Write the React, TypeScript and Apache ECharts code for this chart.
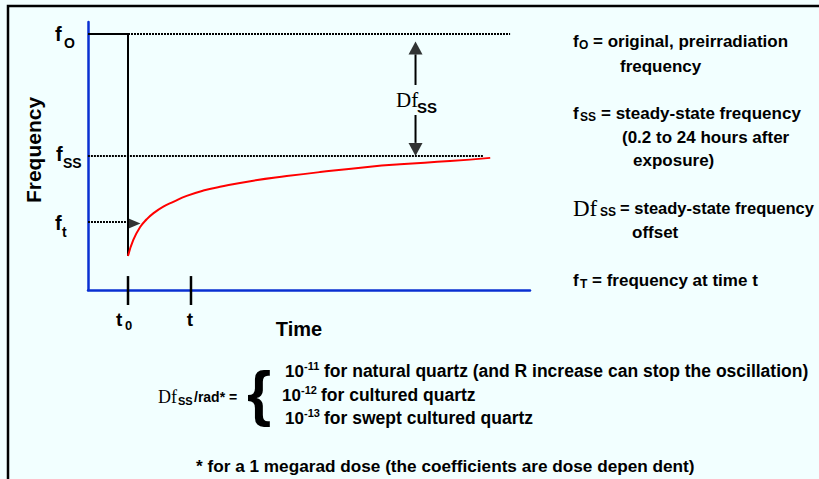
import React, { useEffect, useRef } from "react";
import * as echarts from "echarts";

// Time (arbitrary units, 0-100) and frequency (arbitrary units, 0-100) of the recovery curve
const CURVE_TIME = [9.05, 10.25, 11.76, 13.28, 14.77, 17.04, 19.3, 22.33, 26.09, 29.86, 37.4, 44.95, 52.5, 63.8, 70.6, 81.9, 91.0];
const CURVE_FREQ = [12.7, 18.7, 23.4, 26.4, 28.6, 31.1, 32.9, 35.1, 37.1, 38.5, 40.8, 42.5, 44.0, 46.0, 46.9, 48.1, 49.3];

const T0 = 9.05;      // time of exposure
const T = 23.3;       // time t
const F_O = 95.5;     // original frequency
const F_SS = 50;      // steady-state frequency
const F_T = 25.4;     // frequency at time t
const DF_X = 74.1;    // position of the Δf_ss arrow
const FO_END = 95.5;
const FSS_START = -0.7;
const FSS_END = 89.4;
const FT_START = -3.4;
const TICK_TOP = 5.2;
const TICK_BOTTOM = -5.6;
const DF_TOP_HEAD = 90.3;
const DF_TOP_SHAFT = [87.9, 76.5];
const DF_BOT_SHAFT = [65.3, 54.9];
const DF_BOT_HEAD = 52.4;
const FT_HEAD_X = 10.4;

const BG = "#F2FFFF";
const BLUE = "#0A30D2";
const SANS = "'Liberation Sans', Arial, sans-serif";
const SERIF = "'Liberation Serif', 'Times New Roman', serif";

function txt(text: string, x: number, y: number, size: number, opts: any = {}) {
  return {
    type: "text",
    x,
    y,
    rotation: opts.rotation || 0,
    style: {
      text,
      fontSize: size,
      fontWeight: opts.weight || "bold",
      fontFamily: opts.family || SANS,
      fill: "#000",
      align: opts.align || "left",
      verticalAlign: "middle",
    },
  };
}

export default function App() {
  const ref = useRef<HTMLDivElement>(null);
  useEffect(() => {
    if (!ref.current) return;
    const chart = echarts.init(ref.current, null, { renderer: "svg" });
    const dotted = { color: "#000", width: 2, type: [2, 1] as any };
    const solid = { color: "#000", width: 2, type: "solid" as any };
    const lineSeries = (data: any[], style: any, clip = true) => ({
      type: "line",
      data,
      symbol: "none",
      clip,
      silent: true,
      lineStyle: style,
    });
    const head = (x: number, y: number, rot: number, size: number[]) => ({
      type: "scatter",
      data: [[x, y]],
      symbol: "triangle",
      symbolSize: size,
      symbolRotate: rot,
      clip: false,
      silent: true,
      itemStyle: { color: "#000" },
    });

    const graphic: any[] = [
      // frame
      { type: "polyline", shape: { points: [[8, 479], [8, 6], [819, 6]] }, style: { stroke: "#000", lineWidth: 2.5, fill: null } },
      // axis titles
      txt("Frequency", 33, 150, 21, { align: "center", rotation: Math.PI / 2 }),
      txt("Time", 299, 329, 20, { align: "center" }),
      // left labels
      txt("f", 55, 34, 20),
      txt("O", 64, 43, 14),
      txt("f", 56, 154, 20),
      txt("SS", 63, 163, 14),
      txt("f", 55, 223, 20),
      txt("t", 62, 232, 14),
      // tick labels
      txt("t", 116, 319, 19),
      txt("0", 125, 325, 13),
      txt("t", 190, 319, 19, { align: "center" }),
      // Δf label near arrow
      txt("Df", 396, 100, 21, { weight: "normal", family: SERIF }),
      txt("SS", 417, 107, 15),
      // right-hand legend
      txt("f", 573, 41, 17),
      txt("O", 579, 45, 12),
      txt("= original, preirradiation", 593, 41, 17),
      txt("frequency", 620, 66, 17),
      txt("f", 573, 113, 17),
      txt("SS", 580, 117, 12),
      txt("= steady-state frequency", 601, 113, 17),
      txt("(0.2 to 24 hours after", 622, 137, 17),
      txt("exposure)", 633, 160, 17),
      txt("Df", 573, 208, 23, { weight: "normal", family: SERIF }),
      txt("SS", 600, 212, 12),
      txt("= steady-state frequency", 620, 208, 16.5),
      txt("offset", 632, 232, 17),
      txt("f", 573, 280, 17),
      txt("T", 580, 284, 12),
      txt("= frequency at time t", 592, 280, 17),
      // bottom formula
      txt("Df", 158, 397, 18, { weight: "normal", family: SERIF }),
      txt("SS", 178, 401, 11),
      txt("/rad* =", 194, 397, 14),
      txt("{", 247, 392, 62),
      txt("10", 285, 371, 17),
      txt("-11", 304, 366, 11),
      txt("for natural quartz (and R increase can stop the oscillation)", 324, 371, 17.5),
      txt("10", 282, 395, 17),
      txt("-12", 301, 390, 11),
      txt("for cultured quartz", 321, 395, 17.5),
      txt("10", 285, 418, 17),
      txt("-13", 304, 413, 11),
      txt("for swept cultured quartz", 324, 418, 17.5),
      txt("* for a 1 megarad dose (the coefficients are dose depen dent)", 196, 466, 17.2),
    ];

    chart.setOption({
      animation: false,
      backgroundColor: BG,
      grid: { left: 88, top: 22, right: 289, bottom: 189 },
      xAxis: {
        type: "value", min: 0, max: 100,
        axisLine: { show: true, onZero: false, lineStyle: { color: BLUE, width: 2.5 } },
        axisTick: { show: false }, axisLabel: { show: false }, splitLine: { show: false },
      },
      yAxis: {
        type: "value", min: 0, max: 100,
        axisLine: { show: true, onZero: false, lineStyle: { color: BLUE, width: 2.5 } },
        axisTick: { show: false }, axisLabel: { show: false }, splitLine: { show: false },
      },
      series: [
        lineSeries([[0, F_O], [T0, F_O]], solid),
        lineSeries([[T0, F_O], [FO_END, F_O]], dotted),
        lineSeries([[FSS_START, F_SS], [FSS_END, F_SS]], dotted, false),
        lineSeries([[FT_START, F_T], [T0, F_T]], dotted, false),
        lineSeries([[T0, F_O], [T0, CURVE_FREQ[0]]], solid),
        lineSeries([[T0, TICK_TOP], [T0, TICK_BOTTOM]], { color: "#000", width: 2.5 }, false),
        lineSeries([[T, TICK_TOP], [T, TICK_BOTTOM]], { color: "#000", width: 2.5 }, false),
        lineSeries([[DF_X, DF_TOP_SHAFT[0]], [DF_X, DF_TOP_SHAFT[1]]], solid),
        lineSeries([[DF_X, DF_BOT_SHAFT[0]], [DF_X, DF_BOT_SHAFT[1]]], solid),
        {
          type: "line",
          data: CURVE_TIME.map((t, i) => [t, CURVE_FREQ[i]]),
          smooth: 0.5,
          symbol: "none",
          silent: true,
          lineStyle: { color: "#FF0000", width: 2 },
        },
        head(DF_X, DF_TOP_HEAD, 0, [14, 13]),
        head(DF_X, DF_BOT_HEAD, 180, [14, 13]),
        head(FT_HEAD_X, F_T - 0.6, -90, [11, 13]),
      ],
      graphic,
    });
    return () => chart.dispose();
  }, []);
  return (
    <div
      ref={ref}
      style={{ position: "fixed", left: 0, top: 0, width: 819, height: 479, background: BG }}
    />
  );
}
